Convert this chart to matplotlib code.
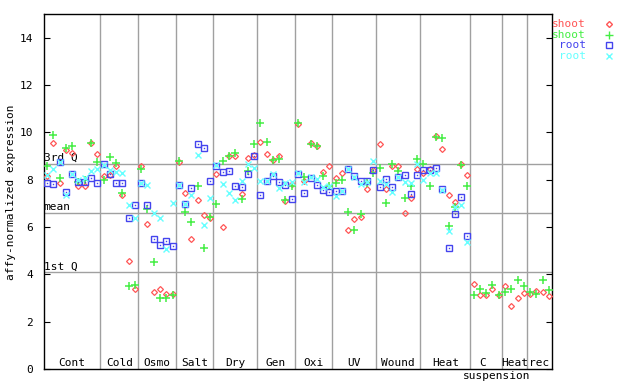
import numpy as np
import matplotlib
matplotlib.use("Agg")
import matplotlib.pyplot as plt
from matplotlib.lines import Line2D

# treatment groups and how many samples each one holds
groups = ["Cont", "Cold", "Osmo", "Salt", "Dry", "Gen", "Oxi", "UV",
          "Wound", "Heat", "C", "Heat", "rec"]
group_sizes = [9, 6, 6, 6, 7, 6, 6, 7, 7, 8, 5, 4, 4]

# shoot replicate 1 (red), all 81 samples
shoot_a = [8.17, 9.57, 7.86, 9.27, 9.14, 7.75, 7.72, 9.55, 9.07,
           8.16, 8.20, 8.56, 7.37, 4.55, 3.36,
           8.58, 6.12, 3.24, 3.37, 3.16, 3.19,
           8.75, 7.45, 5.51, 7.12, 6.50, 6.36,
           8.25, 5.98, 9.00, 9.00, 7.41, 8.93, 9.05,
           9.59, 9.07, 8.82, 9.00, 7.09, 7.83,
           10.37, 7.95, 9.56, 9.42, 8.31, 8.57,
           8.09, 8.27, 5.89, 6.33, 6.44, 7.62, 8.42,
           9.49, 7.62, 8.58, 8.58, 6.61, 7.24, 8.47,
           8.27, 8.47, 9.83, 9.31, 7.37, 7.07, 8.68, 8.21,
           3.59, 3.11, 3.11, 3.40, 3.11,
           3.50, 2.66, 2.98, 3.22,
           3.16, 3.29, 3.24, 3.08]

# shoot replicate 2 (green)
shoot_b = [8.57, 9.87, 8.05, 9.32, 9.41, 7.90, 7.97, 9.57, 8.73,
           7.97, 8.96, 8.72, 7.44, 3.50, 3.53,
           8.47, 6.78, 4.51, 3.02, 3.02, 3.11,
           8.80, 6.64, 6.23, 7.72, 5.13, 6.44,
           6.99, 8.80, 9.02, 9.14, 7.20, 8.37, 9.49,
           10.41, 9.59, 8.85, 8.89, 7.16, 7.72,
           10.41, 8.13, 9.52, 9.44, 8.16, 7.73,
           7.88, 8.00, 6.65, 5.89, 6.57, 7.85, 8.30,
           8.51, 7.03, 8.68, 8.35, 7.24, 7.72, 8.86,
           8.68, 7.72, 9.80, 9.77, 6.03, 6.85, 8.60, 7.72,
           3.11, 3.36, 3.22, 3.54, 3.11,
           3.26, 3.36, 3.78, 3.50,
           3.26, 3.15, 3.78, 3.33]

# root replicate 1 (blue), no root samples for the cell culture sets
root_a = [7.86, 7.80, 8.74, 7.50, 8.23, 7.90, 7.92, 8.05, 7.85,
          8.68, 8.23, 7.88, 7.88, 6.40, 6.95,
          7.88, 6.95, 5.51, 5.22, 5.39, 5.18,
          7.78, 6.96, 7.66, 9.49, 9.32, 7.96,
          8.58, 8.34, 8.38, 7.75, 7.67, 8.25, 8.99,
          7.37, 7.93, 8.16, 7.89, 7.79, 7.20,
          8.23, 7.45, 8.06, 7.79, 7.58, 7.50,
          7.54, 7.54, 8.43, 8.17, 7.96, 7.96, 8.40,
          7.67, 8.04, 7.71, 8.11, 8.21, 7.41, 8.21,
          8.42, 8.42, 8.51, 7.62, 5.13, 6.57, 7.28, 5.64]

# root replicate 2 (cyan)
root_b = [8.20, 8.43, 8.74, 7.35, 8.23, 8.00, 8.09, 8.37, 8.45,
          8.62, 8.40, 8.33, 8.30, 6.92, 6.40,
          7.88, 7.79, 6.61, 6.40, 5.05, 7.03,
          7.78, 6.96, 7.37, 9.04, 6.10, 7.24,
          8.60, 7.83, 7.45, 7.16, 7.96, 8.68, 8.51,
          7.93, 7.93, 8.22, 7.64, 7.86, 7.90,
          8.30, 7.92, 8.13, 8.04, 7.67, 7.72,
          7.31, 7.54, 8.43, 8.10, 7.80, 7.90, 8.78,
          7.96, 7.80, 7.50, 8.11, 7.92, 7.86, 8.65,
          8.00, 8.30, 8.30, 7.55, 5.82, 6.85, 6.91, 5.36]

quartiles = {"3rd Q": 8.68, "mean": 6.61, "1st Q": 4.08}

red = "#ff5555"
green = "#44ee44"
blue = "#4444ee"
cyan = "#66ffff"
grey = "#a0a0a0"
mono = "DejaVu Sans Mono"

fig = plt.figure(figsize=(6.4, 3.84), dpi=100)
ax = fig.add_axes([44 / 640, 15 / 384, 508 / 640, 355 / 384])

n = sum(group_sizes)
ax.set_xlim(-0.5, n - 0.5)
ax.set_ylim(0, 15)

# group separators and labels
edges = np.cumsum(group_sizes)
start = 0
for name, size, end in zip(groups, group_sizes, edges):
    if end < n:
        ax.axvline(end - 0.5, color=grey, lw=1, zorder=1)
    shift = 1.1 if name == "C" else 0.5
    ax.text(start + size / 2 - shift, 0.05, name, ha="center", va="bottom",
            family=mono, fontsize=8)
    start = end
ax.text(71.7, -0.1, "suspension", ha="center", va="top", family=mono,
        fontsize=8, clip_on=False)

for label, val in quartiles.items():
    ax.axhline(val, color=grey, lw=1, zorder=1)
    ax.text(-0.55, val + 0.02, label, ha="left", va="bottom", family=mono,
            fontsize=8)

x_shoot = np.arange(len(shoot_a))
x_root = np.arange(len(root_a))
ax.plot(x_shoot, shoot_a, ls="none", marker="D", ms=3, mfc="none",
        mec=red, mew=0.9, zorder=3)
ax.plot(x_shoot, shoot_b, ls="none", marker="+", ms=5.5, mec=green,
        mew=1.1, zorder=3)
ax.plot(x_root, root_a, ls="none", marker="s", ms=4.5, mfc="none",
        mec=blue, mew=1.0, zorder=3)
ax.plot(x_root, root_a, ls="none", marker="s", ms=1, mfc=blue,
        mec=blue, mew=0, zorder=3)
ax.plot(x_root, root_b, ls="none", marker="x", ms=4, mec=cyan,
        mew=1.0, zorder=3)

ax.set_yticks(range(0, 15, 2))
ax.set_xticks([])
ax.tick_params(axis="y", direction="in", length=4, right=True,
               labelsize=8, pad=8)
for t in ax.get_yticklabels():
    t.set_family(mono)
for s in ax.spines.values():
    s.set_linewidth(1)

fig.text(11 / 640, 1 - 192 / 384, "affy-normalized expression",
         rotation=90, ha="center", va="center", family=mono, fontsize=8)

# legend drawn at the top right, outside the axes
legend = [("shoot", red, "D", 3), ("shoot", green, "+", 5.5),
          ("root", blue, "s", 4.5), ("root", cyan, "x", 4)]
for k, (txt, col, mk, ms) in enumerate(legend):
    yy = 1 - (24 + k * 10.7) / 384
    fig.text(586 / 640, yy, txt, ha="right", va="center", color=col,
             family=mono, fontsize=8)
    fig.add_artist(Line2D([609 / 640], [yy], transform=fig.transFigure,
                          marker=mk, ms=ms, ls="none", mfc="none", mec=col,
                          mew=1.0))

fig.savefig("out.png", dpi=100)
